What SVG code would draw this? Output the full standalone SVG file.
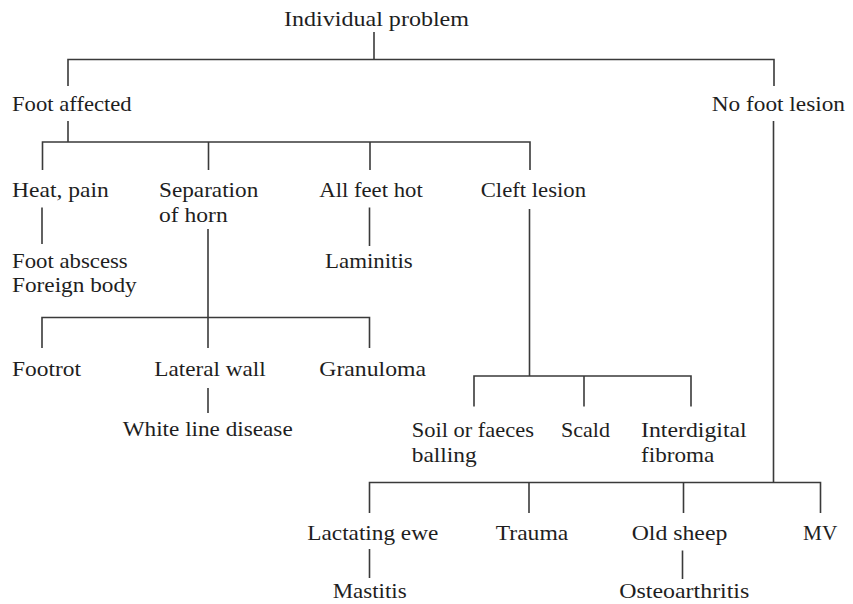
<svg xmlns="http://www.w3.org/2000/svg" width="853" height="604" viewBox="0 0 853 604">
  <style>
    .bg { fill: #ffffff; }
    text { font-family: "Liberation Serif", "Times New Roman", serif; font-size: 22px; fill: #1e1e1e; }
    .link { fill: none; stroke: #3a3a3a; stroke-width: 1.6; stroke-linecap: butt; stroke-linejoin: miter; }
  </style>
  <rect class="bg" x="0" y="0" width="853" height="604"/>

  <!-- connectors of the decision tree -->
  <g id="connectors">
    <path class="link" d="M374 32 V59.5"/>
    <path class="link" d="M68 86 V59.5 H774 V86"/>
    <path class="link" d="M68 121 V142"/>
    <path class="link" d="M42.5 170 V142 H530 V170"/>
    <path class="link" d="M208.5 142 V170"/>
    <path class="link" d="M370 142 V170"/>
    <path class="link" d="M42 207.5 V244"/>
    <path class="link" d="M208 229 V348"/>
    <path class="link" d="M42 348 V317.5 H369.5 V348"/>
    <path class="link" d="M369.5 207.5 V246"/>
    <path class="link" d="M208 388 V413"/>
    <path class="link" d="M529.5 209 V376"/>
    <path class="link" d="M474 406.5 V376 H691 V406.5"/>
    <path class="link" d="M584 376 V406.5"/>
    <path class="link" d="M773.5 121 V482.5"/>
    <path class="link" d="M369.5 513 V482.5 H820.5 V513"/>
    <path class="link" d="M529 482.5 V513"/>
    <path class="link" d="M683.5 482.5 V513"/>
    <path class="link" d="M369.5 549 V578"/>
    <path class="link" d="M682.5 550.5 V579"/>
  </g>

  <!-- nodes -->
  <g id="individual-problem"><text x="284" y="26" textLength="185" lengthAdjust="spacingAndGlyphs">Individual problem</text></g>
  <g id="foot-affected"><text x="12" y="111" textLength="119.7" lengthAdjust="spacingAndGlyphs">Foot affected</text></g>
  <g id="no-foot-lesion"><text x="711.7" y="111" textLength="133.3" lengthAdjust="spacingAndGlyphs">No foot lesion</text></g>

  <g id="heat-pain"><text x="12" y="196.5" textLength="96.7" lengthAdjust="spacingAndGlyphs">Heat, pain</text></g>
  <g id="separation-of-horn">
    <text x="159" y="196.5" textLength="99.3" lengthAdjust="spacingAndGlyphs">Separation</text>
    <text x="159" y="221.5" textLength="68.7" lengthAdjust="spacingAndGlyphs">of horn</text>
  </g>
  <g id="all-feet-hot"><text x="319.3" y="196.5" textLength="103.4" lengthAdjust="spacingAndGlyphs">All feet hot</text></g>
  <g id="cleft-lesion"><text x="480.7" y="196.5" textLength="105.3" lengthAdjust="spacingAndGlyphs">Cleft lesion</text></g>

  <g id="foot-abscess">
    <text x="12" y="267.7" textLength="115.7" lengthAdjust="spacingAndGlyphs">Foot abscess</text>
    <text x="12" y="291.7" textLength="124.7" lengthAdjust="spacingAndGlyphs">Foreign body</text>
  </g>
  <g id="laminitis"><text x="325" y="268" textLength="87.7" lengthAdjust="spacingAndGlyphs">Laminitis</text></g>

  <g id="footrot"><text x="12" y="376" textLength="69" lengthAdjust="spacingAndGlyphs">Footrot</text></g>
  <g id="lateral-wall"><text x="154.3" y="376" textLength="111.4" lengthAdjust="spacingAndGlyphs">Lateral wall</text></g>
  <g id="granuloma"><text x="319.3" y="376" textLength="106.7" lengthAdjust="spacingAndGlyphs">Granuloma</text></g>
  <g id="white-line-disease"><text x="122.7" y="436" textLength="170" lengthAdjust="spacingAndGlyphs">White line disease</text></g>

  <g id="soil-balling">
    <text x="411.7" y="437.3" textLength="122.3" lengthAdjust="spacingAndGlyphs">Soil or faeces</text>
    <text x="411.7" y="461.7" textLength="65" lengthAdjust="spacingAndGlyphs">balling</text>
  </g>
  <g id="scald"><text x="561" y="437.3" textLength="49" lengthAdjust="spacingAndGlyphs">Scald</text></g>
  <g id="interdigital-fibroma">
    <text x="641" y="437.3" textLength="105.7" lengthAdjust="spacingAndGlyphs">Interdigital</text>
    <text x="641" y="461.7" textLength="73.3" lengthAdjust="spacingAndGlyphs">fibroma</text>
  </g>

  <g id="lactating-ewe"><text x="307.3" y="540" textLength="131" lengthAdjust="spacingAndGlyphs">Lactating ewe</text></g>
  <g id="trauma"><text x="495.7" y="540" textLength="72.6" lengthAdjust="spacingAndGlyphs">Trauma</text></g>
  <g id="old-sheep"><text x="631.7" y="540" textLength="95.6" lengthAdjust="spacingAndGlyphs">Old sheep</text></g>
  <g id="mv"><text x="803" y="540" textLength="34.3" lengthAdjust="spacingAndGlyphs">MV</text></g>
  <g id="mastitis"><text x="332.7" y="598" textLength="74" lengthAdjust="spacingAndGlyphs">Mastitis</text></g>
  <g id="osteoarthritis"><text x="619.3" y="598" textLength="130" lengthAdjust="spacingAndGlyphs">Osteoarthritis</text></g>
</svg>
